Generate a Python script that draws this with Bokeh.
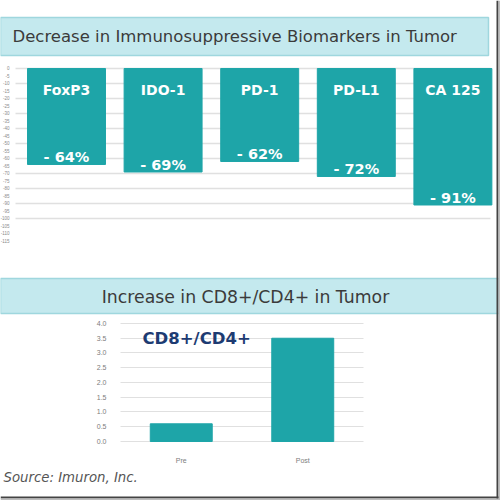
import numpy as np
from bokeh.plotting import figure
from bokeh.models import (ColumnDataSource, Range1d, Label, LinearAxis, Grid,
                          SingleIntervalTicker, FixedTicker, PrintfTickFormatter)
from bokeh.core.properties import value
from bokeh.embed import file_html
from bokeh.resources import INLINE

# ---------------- data ----------------
markers = ["FoxP3", "IDO-1", "PD-1", "PD-L1", "CA 125"]
decrease_pct = [-64, -69, -62, -72, -91]
ratio_groups = ["Pre", "Post"]
ratio_values = [0.6, 3.5]

title_top = "Decrease in Immunosuppressive Biomarkers in Tumor"
title_bottom = "Increase in CD8+/CD4+ in Tumor"
inset_label = "CD8+/CD4+"
source_note = "Source: Imuron, Inc."

# ---------------- style ----------------
TEAL = "#1ea5a8"
BOX_FILL = "#c4e9ee"
BOX_LINE = "#9fd7de"
TITLE_TXT = "#3b3b3b"
GRID = "#e0e0e0"
FONT = "DejaVu Sans"
SIZE = 500

# One canvas; base ranges are page pixels (y downward) for the page furniture,
# each chart gets its own ranges so its panel sits where the reference has it.
p = figure(width=SIZE, height=SIZE, x_range=Range1d(0, SIZE),
           y_range=Range1d(SIZE, 0), x_axis_type=None, y_axis_type=None,
           min_border=0, toolbar_location=None, output_backend="svg")
p.outline_line_color = None
p.background_fill_color = "white"

p.extra_x_ranges = {"c1x": Range1d(-0.6832, 4.4928), "c2x": Range1d(-1.4877, 2.6276)}
p.extra_y_ranges = {"c1y": Range1d(-288.0, 45.333), "c2y": Range1d(-2.0, 14.949)}

# ---------- page furniture ----------
p.quad(left=0, right=488, top=17, bottom=55, fill_color=BOX_FILL,
       line_color=BOX_LINE, line_width=1.5)
p.quad(left=0, right=500, top=278, bottom=313, fill_color=BOX_FILL,
       line_color=BOX_LINE, line_width=1.5)
p.add_layout(Label(x=12, y=36, text=title_top, text_font=FONT,
                   text_font_size="16.5px", text_color=TITLE_TXT,
                   text_baseline="middle", text_align="left"))
p.add_layout(Label(x=245, y=296, text=title_bottom, text_font=FONT,
                   text_font_size="17.3px", text_color=TITLE_TXT,
                   text_baseline="middle", text_align="center"))
p.add_layout(Label(x=3, y=477, text=source_note, text_font=FONT,
                   text_font_style="italic", text_font_size="13.3px",
                   text_color="#555555", text_baseline="middle"))
# picture frame edges
p.quad(left=496, right=498, top=0, bottom=500, fill_color="#444444", line_color=None)
p.quad(left=498, right=500, top=0, bottom=500, fill_color="#bdbdbd", line_color=None)
p.quad(left=0, right=498, top=496, bottom=498, fill_color="#444444", line_color=None)
p.quad(left=0, right=500, top=498, bottom=500, fill_color="#bdbdbd", line_color=None)

# ---------- chart 1 ----------
src1 = ColumnDataSource(dict(
    x=np.arange(len(markers)),
    v=decrease_pct,
    name=markers,
    lab=[f"- {abs(v)}%" for v in decrease_pct],
))
p.add_layout(Grid(dimension=1, y_range_name="c1y",
                  ticker=SingleIntervalTicker(interval=10),
                  bounds=(-100.5, 0.5), cross_bounds=(15, 490),
                  grid_line_color=GRID, grid_line_width=1.5))
ay1 = LinearAxis(y_range_name="c1y", fixed_location=16,
                 ticker=SingleIntervalTicker(interval=5), bounds=(-115, 0),
                 formatter=PrintfTickFormatter(format="%d"),
                 major_label_text_font_size="4.5px",
                 major_label_text_color="#8a8a8a", major_label_standoff=1,
                 major_tick_line_color=None, minor_tick_line_color=None,
                 axis_line_color=None)
p.add_layout(ay1, "left")
p.vbar(x="x", top=0, bottom="v", width=0.807, source=src1,
       fill_color=TEAL, line_color=TEAL, x_range_name="c1x", y_range_name="c1y")
p.text(x="x", y=0, text="name", source=src1, text_font=value(FONT),
       text_font_style="bold", text_font_size="14px", text_color="white",
       text_align="center", text_baseline="top", y_offset=14,
       x_range_name="c1x", y_range_name="c1y")
p.text(x="x", y="v", text="lab", source=src1, text_font=value(FONT),
       text_font_style="bold", text_font_size="14.5px", text_color="white",
       text_align="center", text_baseline="bottom", y_offset=1,
       x_range_name="c1x", y_range_name="c1y")

# ---------- chart 2 ----------
src2 = ColumnDataSource(dict(x=np.arange(len(ratio_groups)), v=ratio_values))
p.add_layout(Grid(dimension=1, y_range_name="c2y", x_range_name="c2x",
                  ticker=SingleIntervalTicker(interval=0.5),
                  bounds=(-0.01, 4.01), cross_bounds=(-0.5, 1.5),
                  grid_line_color=GRID, grid_line_width=1))
ay2 = LinearAxis(y_range_name="c2y", fixed_location=120,
                 ticker=SingleIntervalTicker(interval=0.5), bounds=(0, 4),
                 formatter=PrintfTickFormatter(format="%.1f"),
                 major_label_text_font_size="7px",
                 major_label_text_color="#7d7d7d", major_label_standoff=8,
                 major_tick_line_color=None, minor_tick_line_color=None,
                 axis_line_color=None)
p.add_layout(ay2, "left")
ax2 = LinearAxis(x_range_name="c2x", y_range_name="c2y", fixed_location=0,
                 ticker=FixedTicker(ticks=list(range(len(ratio_groups)))),
                 major_label_overrides={i: g for i, g in enumerate(ratio_groups)},
                 bounds=(-0.5, 1.5),
                 major_label_text_font_size="7px",
                 major_label_text_color="#7d7d7d", major_label_standoff=10,
                 major_tick_line_color=None, minor_tick_line_color=None,
                 axis_line_color=None)
p.add_layout(ax2, "below")
p.vbar(x="x", top="v", bottom=0, width=0.51, source=src2, fill_color=TEAL,
       line_color=TEAL, x_range_name="c2x", y_range_name="c2y")
p.add_layout(Label(x=-0.319, y=3.5, x_range_name="c2x", y_range_name="c2y",
                   text=inset_label, text_font=FONT, text_font_style="bold",
                   text_font_size="16.5px", text_color="#1d3b72",
                   text_baseline="middle"))

open("out.html", "w").write(file_html(p, INLINE))
